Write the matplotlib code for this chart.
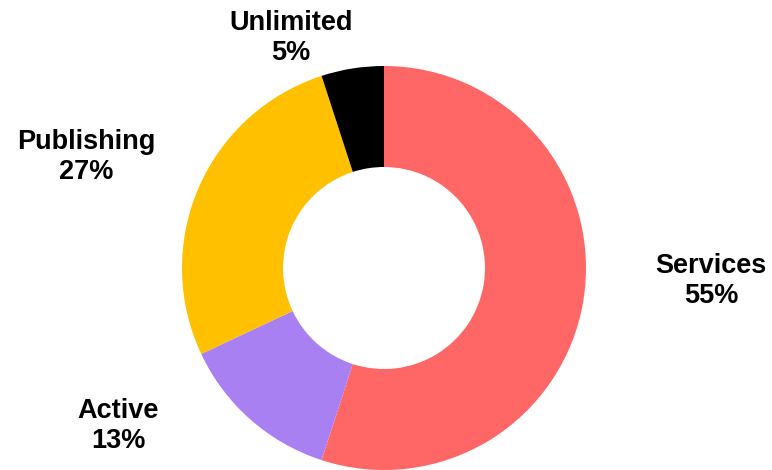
import matplotlib
matplotlib.use("Agg")
import matplotlib.pyplot as plt

categories = ["Services", "Active", "Publishing", "Unlimited"]
shares = [55, 13, 27, 5]
colors = ["#FF6666", "#A880F2", "#FFC000", "#000000"]

# label anchor points (data units, pie radius = 1)
label_xy = [(1.62, -0.065), (-1.317, -0.782), (-1.475, 0.55), (-0.46, 1.139)]

fig = plt.figure(figsize=(7.72, 4.70), dpi=100)
ax = fig.add_axes([0, 0, 1, 1])

wedges, _ = ax.pie(shares, colors=colors, startangle=90, counterclock=False,
                   radius=1.0, wedgeprops=dict(width=0.5, linewidth=0))

for name, val, (x, y) in zip(categories, shares, label_xy):
    ax.text(x, y, f"{name}\n{val}%", ha="center", va="center",
            fontsize=19.5, fontweight="bold", family="Liberation Sans",
            linespacing=1.22, color="black")

ax.set_xlim(-384 / 202, (772 - 384) / 202)
ax.set_ylim(-202 / 202, 268 / 202)
ax.set_aspect("equal")
ax.axis("off")

fig.savefig("out.png", dpi=100)
